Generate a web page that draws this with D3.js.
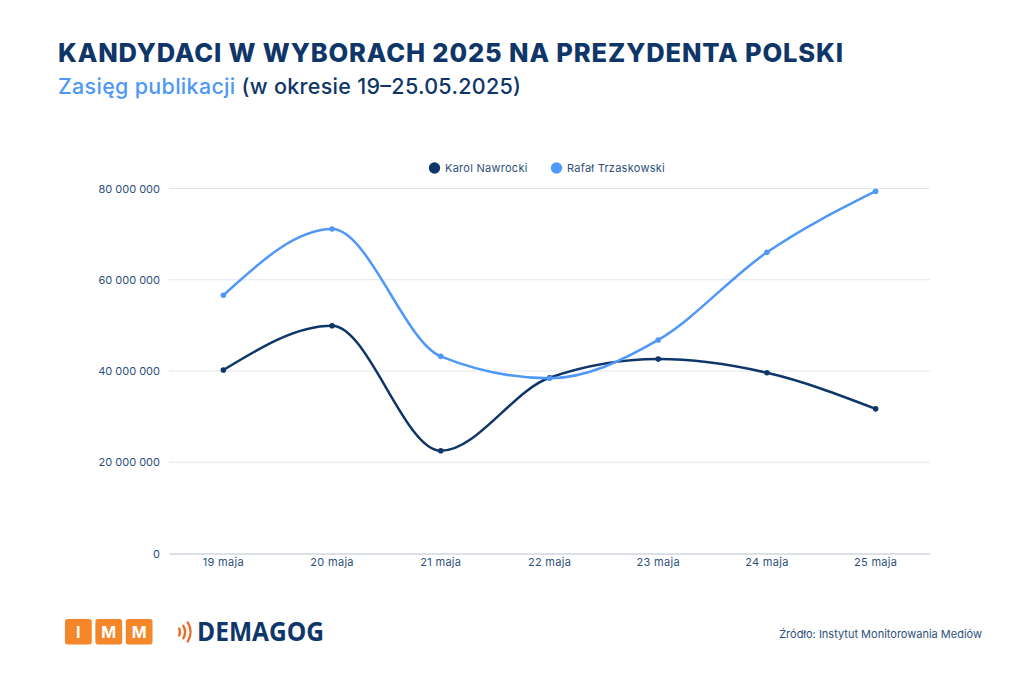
<!DOCTYPE html>
<html lang="pl">
<head>
<meta charset="utf-8">
<title>Kandydaci w wyborach 2025</title>
<script src="https://cdnjs.cloudflare.com/ajax/libs/d3/7.8.5/d3.min.js"></script>
<style>
html, body { margin: 0; padding: 0; background: #fff; }
svg { display: block; font-family: Inter, sans-serif; }
</style>
</head>
<body>
<div id="chart"></div>
<script>
var days = ["19 maja", "20 maja", "21 maja", "22 maja", "23 maja", "24 maja", "25 maja"];
var nawrocki = [40100000, 49800000, 22400000, 38400000, 42500000, 39500000, 31600000];
var trzaskowski = [56500000, 71000000, 43100000, 38300000, 46700000, 65900000, 79300000];
var yTicks = [0, 20000000, 40000000, 60000000, 80000000];
var seriesNames = ["Karol Nawrocki", "Rafał Trzaskowski"];
var seriesColors = ["#0f3668", "#4f98f8"];
var immLetters = ["I", "M", "M"];

var w = 1024, h = 683;
var navy = "#0f3668", tickColor = "#2d4f7c";

var svg = d3.select("#chart").append("svg")
    .attr("width", w)
    .attr("height", h)
    .attr("viewBox", "0 0 " + w + " " + h);

// headings
svg.append("text")
    .attr("x", 58).attr("y", 62)
    .attr("font-size", 25.5).attr("font-weight", 800)
    .attr("fill", navy)
    .attr("textLength", 785).attr("lengthAdjust", "spacing")
    .text("KANDYDACI W WYBORACH 2025 NA PREZYDENTA POLSKI");

var sub = svg.append("text")
    .attr("x", 58).attr("y", 94)
    .attr("font-size", 21.5).attr("font-weight", 500)
    .attr("textLength", 463).attr("lengthAdjust", "spacing");
sub.append("tspan").attr("fill", "#4f98f8").text("Zasięg publikacji");
sub.append("tspan").attr("fill", navy).text(" (w okresie 19–25.05.2025)");

// scales
var x = d3.scaleBand().domain(days).range([169, 930]);
var y = d3.scaleLinear().domain([0, 80000000]).range([553, 188]);

function formatTick(v) {
    return d3.format(",")(v).replace(/,/g, " ");
}

// grid
svg.append("g").selectAll("line")
    .data(yTicks.slice(1))
    .enter().append("line")
    .attr("x1", 169).attr("x2", 930)
    .attr("y1", function(d) { return y(d) + 0.5; })
    .attr("y2", function(d) { return y(d) + 0.5; })
    .attr("stroke", "#e2e6ee").attr("stroke-width", 1);

// axes
var yAxis = svg.append("g")
    .attr("transform", "translate(169,0.5)")
    .call(d3.axisLeft(y).tickValues(yTicks).tickFormat(formatTick).tickSize(0).tickPadding(9));
yAxis.select(".domain").remove();

var xAxis = svg.append("g")
    .attr("transform", "translate(0,553.5)")
    .call(d3.axisBottom(x).tickSize(0).tickPadding(5));
xAxis.select(".domain").attr("stroke", "#b9c3d0").attr("stroke-width", 1);

svg.selectAll(".tick text")
    .attr("font-family", "Inter, sans-serif")
    .attr("font-size", 11)
    .attr("fill", tickColor);
xAxis.selectAll(".tick text").attr("letter-spacing", 0.3);

// lines
var line = d3.line()
    .x(function(d, i) { return x(days[i]) + x.bandwidth() / 2; })
    .y(function(d) { return y(d); })
    .curve(d3.curveMonotoneX);

[nawrocki, trzaskowski].forEach(function(values, s) {
    svg.append("path")
        .datum(values)
        .attr("d", line)
        .attr("fill", "none")
        .attr("stroke", seriesColors[s])
        .attr("stroke-width", 2.5);

    svg.append("g").selectAll("circle")
        .data(values)
        .enter().append("circle")
        .attr("cx", function(d, i) { return x(days[i]) + x.bandwidth() / 2; })
        .attr("cy", function(d) { return y(d); })
        .attr("r", 2.8)
        .attr("fill", seriesColors[s]);
});

// legend
var legendX = [434.5, 556.5];
seriesNames.forEach(function(name, i) {
    svg.append("circle")
        .attr("cx", legendX[i]).attr("cy", 168)
        .attr("r", 5.7)
        .attr("fill", seriesColors[i]);
    svg.append("text")
        .attr("x", legendX[i] + 10.5).attr("y", 172)
        .attr("font-size", 11)
        .attr("letter-spacing", 0.27)
        .attr("fill", tickColor)
        .text(name);
});

// IMM logo
var logo = svg.append("g");
var boxX = d3.scaleBand().domain(d3.range(3)).range([65, 152.5]).paddingInner(0.12);
immLetters.forEach(function(letter, i) {
    logo.append("rect")
        .attr("x", boxX(i)).attr("y", 619)
        .attr("width", boxX.bandwidth()).attr("height", 25.5)
        .attr("rx", 2.5)
        .attr("fill", "#f5862a");
    logo.append("text")
        .attr("x", boxX(i) + boxX.bandwidth() / 2).attr("y", 637.5)
        .attr("text-anchor", "middle")
        .attr("font-size", 16).attr("font-weight", 700)
        .attr("fill", "#fff")
        .text(letter);
});

// Demagog logo
[7.5, 12.5, 18].forEach(function(r) {
    logo.append("path")
        .attr("transform", "translate(172.5,632)")
        .attr("d", d3.arc().cornerRadius(1)({
            innerRadius: r - 1.2,
            outerRadius: r + 1.2,
            startAngle: Math.PI / 2 - 0.62,
            endAngle: Math.PI / 2 + 0.62
        }))
        .attr("fill", "#ee6a2b");
});
logo.append("text")
    .attr("x", 197).attr("y", 641)
    .attr("font-family", "'Open Sans', sans-serif")
    .attr("font-size", 26.5).attr("font-weight", 700)
    .attr("fill", navy)
    .attr("textLength", 127).attr("lengthAdjust", "spacingAndGlyphs")
    .text("DEMAGOG");

// source
svg.append("text")
    .attr("x", 982).attr("y", 638)
    .attr("text-anchor", "end")
    .attr("font-size", 11)
    .attr("fill", tickColor)
    .text("Źródło: Instytut Monitorowania Mediów");
</script>
</body>
</html>
